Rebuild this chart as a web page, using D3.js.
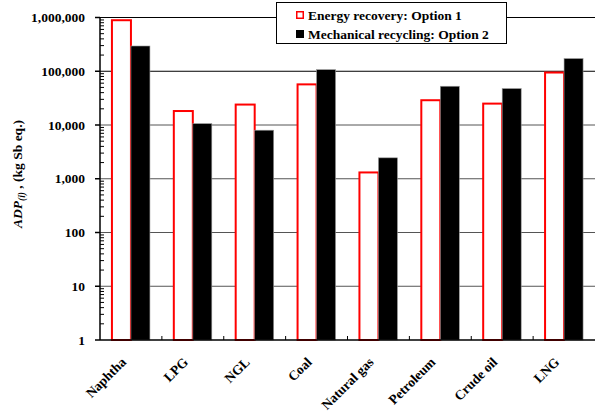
<!DOCTYPE html>
<html>
<head>
<meta charset="utf-8">
<script src="https://cdn.jsdelivr.net/npm/d3@7"></script>
<style>
  html, body { margin: 0; padding: 0; background: #fff; }
  svg { display: block; }
  text { font-family: "Liberation Serif", "Times New Roman", serif; font-weight: bold; }
</style>
</head>
<body>
<svg id="chart" width="595" height="416"></svg>
<script>
// Abiotic depletion potential per resource, two end-of-life options
const categories = ["Naphtha", "LPG", "NGL", "Coal", "Natural gas", "Petroleum", "Crude oil", "LNG"];
const energyRecovery = [890000, 18200, 24000, 57000, 1310, 28900, 25000, 94700];
const mechanicalRecycling = [295000, 10600, 8000, 107000, 2450, 52600, 47600, 172000];
const seriesNames = ["Energy recovery: Option 1", "Mechanical recycling: Option 2"];
const yTicks = [1, 10, 100, 1000, 10000, 100000, 1000000];

const svg = d3.select("#chart");
const margin = { left: 100, right: 0, top: 17.5, bottom: 76 };
const W = 595, H = 416;
const plotBottom = H - margin.bottom;

const x = d3.scaleBand().domain(categories).range([margin.left, W - margin.right]);
const y = d3.scaleLog().domain([1, 1e6]).range([plotBottom, margin.top]);

const barW = 19;

// gridlines at each decade
svg.append("g")
  .selectAll("line")
  .data(yTicks.slice(1))
  .join("line")
  .attr("x1", margin.left).attr("x2", W - margin.right)
  .attr("y1", d => y(d)).attr("y2", d => y(d))
  .attr("stroke", d => d >= 100000 ? "#000" : "#555")
  .attr("stroke-width", 1);

// bars
const groups = svg.append("g")
  .selectAll("g")
  .data(categories)
  .join("g");

groups.append("rect")
  .attr("x", (d) => x(d) + x.bandwidth() / 2 - barW)
  .attr("width", barW)
  .attr("y", (d, i) => y(energyRecovery[i]))
  .attr("height", (d, i) => plotBottom - y(energyRecovery[i]))
  .attr("fill", "#fff")
  .attr("stroke", "#ff0000")
  .attr("stroke-width", 2);

groups.append("rect")
  .attr("x", (d) => x(d) + x.bandwidth() / 2)
  .attr("width", barW)
  .attr("y", (d, i) => y(mechanicalRecycling[i]))
  .attr("height", (d, i) => plotBottom - y(mechanicalRecycling[i]))
  .attr("fill", "#000")
  .attr("stroke", "#999")
  .attr("stroke-width", 0.6);

// y axis with major ticks outside and minor log ticks inside
const yAxis = svg.append("g").attr("transform", `translate(${margin.left},0)`);
yAxis.append("line")
  .attr("x1", 0).attr("x2", 0)
  .attr("y1", y(1)).attr("y2", y(1e6))
  .attr("stroke", "#000").attr("stroke-width", 1.5);

yAxis.selectAll(".major")
  .data(yTicks)
  .join("line")
  .attr("class", "major")
  .attr("x1", -5).attr("x2", 0)
  .attr("y1", d => y(d)).attr("y2", d => y(d))
  .attr("stroke", "#000").attr("stroke-width", 1.5);

const minor = [];
for (let e = 0; e < 6; e++) {
  for (let m = 2; m <= 9; m++) minor.push(m * Math.pow(10, e));
}
yAxis.selectAll(".minor")
  .data(minor)
  .join("line")
  .attr("class", "minor")
  .attr("x1", 0).attr("x2", 4)
  .attr("y1", d => y(d)).attr("y2", d => y(d))
  .attr("stroke", "#000").attr("stroke-width", 1);

yAxis.selectAll(".lbl")
  .data(yTicks)
  .join("text")
  .attr("class", "lbl")
  .attr("x", -15)
  .attr("y", d => y(d))
  .attr("dy", "0.35em")
  .attr("text-anchor", "end")
  .attr("font-size", "13.5px")
  .text(d => d3.format(",")(d));

// x axis
const xAxis = svg.append("g");
xAxis.append("line")
  .attr("x1", margin.left).attr("x2", W - margin.right)
  .attr("y1", plotBottom).attr("y2", plotBottom)
  .attr("stroke", "#000").attr("stroke-width", 1.5);

xAxis.selectAll(".xt")
  .data(categories.slice(1))
  .join("line")
  .attr("class", "xt")
  .attr("x1", d => x(d)).attr("x2", d => x(d))
  .attr("y1", plotBottom - 4).attr("y2", plotBottom)
  .attr("stroke", "#000").attr("stroke-width", 1);

xAxis.selectAll(".xl")
  .data(categories)
  .join("text")
  .attr("class", "xl")
  .attr("text-anchor", "end")
  .attr("font-size", "13.5px")
  .attr("transform", d => `translate(${x(d) + x.bandwidth() / 2 - 4},${plotBottom + 23}) rotate(-45)`)
  .text(d => d);

// y axis title
const title = svg.append("text")
  .attr("transform", `translate(22,174) rotate(-90)`)
  .attr("text-anchor", "middle")
  .attr("font-size", "13.5px");
title.append("tspan").attr("font-style", "italic").text("ADP");
title.append("tspan").attr("font-style", "italic").attr("font-size", "9.5px").attr("dy", "3").text("(i)");
title.append("tspan").attr("dy", "-3").text(" , (kg Sb eq.)");

// legend
const legend = svg.append("g");
legend.append("rect")
  .attr("x", 276.5).attr("y", 2.5).attr("width", 230).attr("height", 41)
  .attr("fill", "#fff").attr("stroke", "#000").attr("stroke-width", 1);

const items = legend.selectAll(".item")
  .data(seriesNames)
  .join("g")
  .attr("class", "item")
  .attr("transform", (d, i) => `translate(296,${15 + i * 19})`);

items.append("rect")
  .attr("x", (d, i) => i === 0 ? 0.75 : 0)
  .attr("y", (d, i) => i === 0 ? -3.25 : -4)
  .attr("width", (d, i) => i === 0 ? 6.5 : 8)
  .attr("height", (d, i) => i === 0 ? 6.5 : 8)
  .attr("fill", (d, i) => i === 0 ? "#fff" : "#000")
  .attr("stroke", (d, i) => i === 0 ? "#ff0000" : "none")
  .attr("stroke-width", 1.5);

items.append("text")
  .attr("x", 12)
  .attr("dy", "0.35em")
  .attr("font-size", "13.5px")
  .text(d => d);
</script>
</body>
</html>
